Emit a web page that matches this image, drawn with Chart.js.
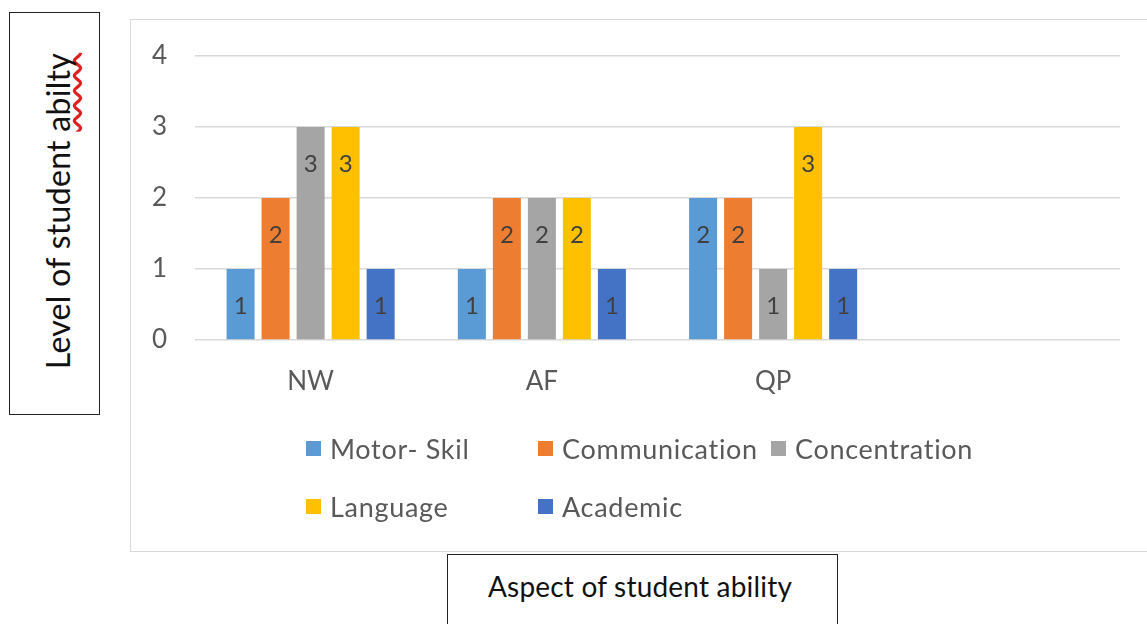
<!DOCTYPE html>
<html>
<head>
<meta charset="utf-8">
<script src="https://cdn.jsdelivr.net/npm/chart.js@4/dist/chart.umd.min.js"></script>
<style>
  html, body { margin: 0; padding: 0; background: #fff; overflow: hidden; }
  body { width: 1147px; height: 624px; position: relative; font-family: Lato, "Open Sans", sans-serif; }
  .ybox { position: absolute; left: 9px; top: 12px; width: 89px; height: 401px; border: 1.5px solid #222; }
  .ytitle { position: absolute; left: 57px; top: 211px; transform: translate(-50%, -50%) rotate(-90deg);
            white-space: nowrap; font-size: 32px; letter-spacing: 0.3px; color: #111; }
  .ytitle span { text-decoration: underline wavy #e02020; text-decoration-skip-ink: none; text-underline-offset: 3px; }
  .frame { position: absolute; left: 130px; top: 19px; width: 1030px; height: 533px; border: 1px solid #d9d9d9; box-sizing: border-box; }
  .wrap { position: absolute; left: 131px; top: 20px; width: 1028px; height: 531px; }
  .xbox { position: absolute; left: 447px; top: 554px; width: 389px; height: 80px; border: 1.5px solid #222; }
  .xtitle { position: absolute; left: 640px; top: 586px; transform: translate(-50%, -50%); white-space: nowrap; font-size: 28px; letter-spacing: 0.2px; color: #111; }
  #legend { position: absolute; left: 306px; top: 433px; display: grid; grid-template-columns: 232px 233px auto; row-gap: 28px; }
  #legend div { display: flex; align-items: center; height: 30px; font-size: 27px; letter-spacing: 0.7px; color: #595959; white-space: nowrap; }
  #legend i { display: inline-block; width: 15px; height: 15px; margin-right: 9px; }
</style>
</head>
<body>
<div class="ybox"></div>
<div class="ytitle">Level of student <span>abilty</span></div>
<div class="frame"></div>
<div class="wrap"><canvas id="chart"></canvas></div>
<div id="legend"></div>
<div class="xbox"></div>
<div class="xtitle">Aspect of student ability</div>
<script>
// categories (the fourth slot is empty in the original chart)
const categories = ['NW', 'AF', 'QP', ''];
const seriesNames = ['Motor- Skil', 'Communication', 'Concentration', 'Language', 'Academic'];
const motorSkil = [1, 1, 2];
const communication = [2, 2, 2];
const concentration = [3, 2, 1];
const language = [3, 2, 3];
const academic = [1, 1, 1];
const yTicks = [0, 1, 2, 3, 4];
const colors = ['#5b9bd5', '#ed7d31', '#a5a5a5', '#ffc000', '#4472c4'];

const seriesValues = [motorSkil, communication, concentration, language, academic];

// value labels drawn near the top inside each bar
const barLabels = {
  id: 'barLabels',
  afterDatasetsDraw(chart) {
    const ctx = chart.ctx;
    ctx.save();
    ctx.font = '24px Lato, "Open Sans", sans-serif';
    ctx.fillStyle = '#404040';
    ctx.textAlign = 'center';
    ctx.textBaseline = 'middle';
    chart.data.datasets.forEach((ds, i) => {
      chart.getDatasetMeta(i).data.forEach((bar, j) => {
        const v = ds.data[j];
        if (v == null) return;
        ctx.fillText(String(v), bar.x, bar.y + 37);
      });
    });
    ctx.restore();
  }
};

const chart = new Chart(document.getElementById('chart'), {
  type: 'bar',
  data: {
    labels: categories,
    datasets: seriesNames.map((name, i) => ({
      label: name,
      data: seriesValues[i],
      backgroundColor: colors[i],
      categoryPercentage: 0.757,
      barPercentage: 0.8
    }))
  },
  options: {
    responsive: true,
    maintainAspectRatio: false,
    animation: false,
    layout: { padding: { top: 36, right: 39, left: 0, bottom: 151 } },
    plugins: {
      legend: { display: false },
      tooltip: { enabled: false }
    },
    scales: {
      x: {
        grid: { display: false, drawTicks: false },
        border: { display: false },
        ticks: { color: '#595959', font: { family: 'Lato', size: 26 }, padding: 26 },
        afterFit(scale) { scale.height = 60; }
      },
      y: {
        min: yTicks[0],
        max: yTicks[yTicks.length - 1],
        grid: { color: '#d9d9d9', lineWidth: 1.5, drawTicks: false },
        border: { display: false },
        ticks: { stepSize: 1, color: '#595959', font: { family: 'Lato', size: 26 }, padding: 28 },
        afterFit(scale) {
          scale.width = 64;
          // tick padding would otherwise push the plot top down
          scale.paddingTop = 0;
          scale.paddingBottom = 0;
        }
      }
    }
  },
  plugins: [barLabels]
});

// legend laid out in columns like the original
const legend = document.getElementById('legend');
chart.data.datasets.forEach(ds => {
  const item = document.createElement('div');
  item.innerHTML = '<i style="background:' + ds.backgroundColor + '"></i>' + ds.label;
  legend.appendChild(item);
});
</script>
</body>
</html>
